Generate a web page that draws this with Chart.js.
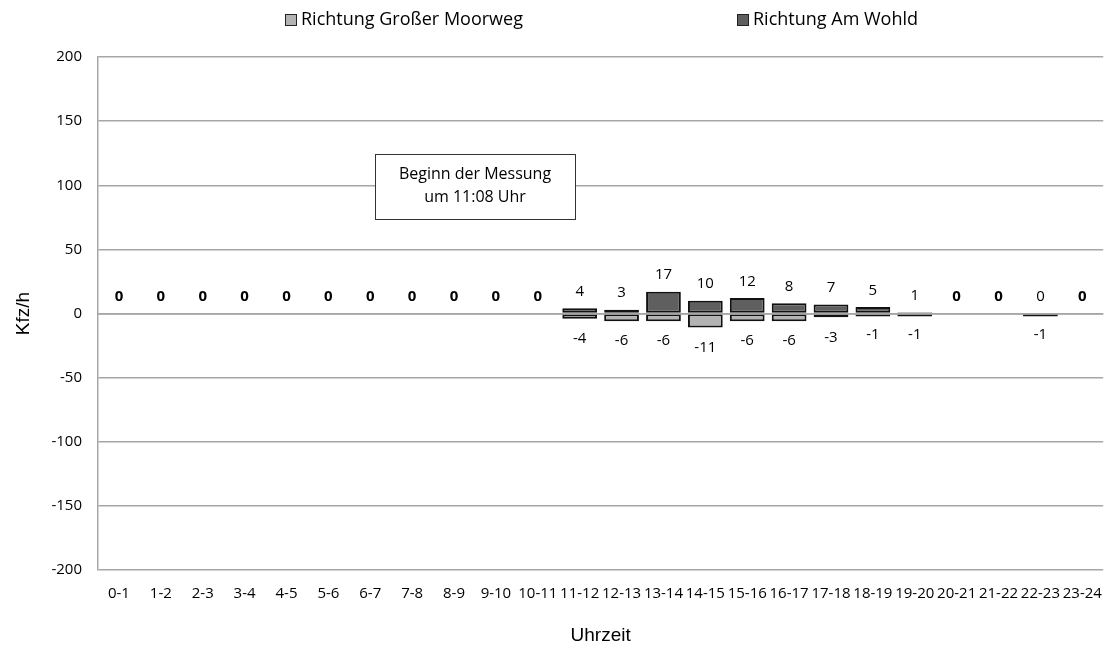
<!DOCTYPE html>
<html><head><meta charset="utf-8">
<script src="https://cdn.jsdelivr.net/npm/chart.js@4/dist/chart.umd.min.js"></script>
<style>html,body{margin:0;padding:0;background:#fff}#wrap{width:1117px;height:653px;position:relative}</style>
</head><body><div id="wrap"><canvas id="c" width="1117" height="653"></canvas></div>
<script>
const categories = ['0-1','1-2','2-3','3-4','4-5','5-6','6-7','7-8','8-9','9-10','10-11','11-12','12-13','13-14','14-15','15-16','16-17','17-18','18-19','19-20','20-21','21-22','22-23','23-24'];
const amWohld = [0,0,0,0,0,0,0,0,0,0,0,4,3,17,10,12,8,7,5,1,0,0,0,0];
const grosserMoorweg = [null,null,null,null,null,null,null,null,null,null,null,-4,-6,-6,-11,-6,-6,-3,-1,-1,null,null,-1,null];
const yMin = -200, yMax = 200, yStep = 50;
const seriesNames = ['Richtung Großer Moorweg','Richtung Am Wohld'];
const noteLines = ['Beginn der Messung','um 11:08 Uhr'];
const colLight = '#b3b3b3', colDark = '#5f5f5f', colBorder = '#111111', colGrid = '#a6a6a6';
const FONT = '"Open Sans", "DejaVu Sans", sans-serif';

const overlayPlugin = {
  id: 'overlay',
  afterDatasetsDraw(chart) {
    const ctx = chart.ctx;
    const mL = chart.getDatasetMeta(0), mD = chart.getDatasetMeta(1);
    const ys = chart.scales.y, area = chart.chartArea;
    ctx.save();
    // zero line drawn over the bars
    const y0 = Math.round(ys.getPixelForValue(0));
    ctx.strokeStyle = colGrid;
    ctx.lineWidth = 1.5;
    ctx.beginPath();
    ctx.moveTo(area.left, y0);
    ctx.lineTo(area.right, y0);
    ctx.stroke();
    ctx.fillStyle = '#000';
    ctx.textAlign = 'center';
    ctx.textBaseline = 'middle';
    for (let i = 0; i < categories.length; i++) {
      const bold = grosserMoorweg[i] === null;
      ctx.font = (bold ? 'bold ' : '') + '15px ' + FONT;
      const ed = mD.data[i];
      ctx.fillText(String(amWohld[i]), ed.x, ys.getPixelForValue(amWohld[i]) - 16.5);
      if (grosserMoorweg[i] !== null) {
        const el = mL.data[i];
        ctx.font = '15px ' + FONT;
        ctx.fillText(String(grosserMoorweg[i]), el.x, ys.getPixelForValue(grosserMoorweg[i]) + 20);
      }
    }
    // note box
    ctx.fillStyle = '#fff';
    ctx.fillRect(375, 154, 200, 65);
    ctx.strokeStyle = '#333';
    ctx.lineWidth = 1;
    ctx.strokeRect(375.5, 154.5, 200, 65);
    ctx.fillStyle = '#000';
    ctx.font = '16px ' + FONT;
    ctx.fillText(noteLines[0], 475, 174);
    ctx.fillText(noteLines[1], 475, 197);
    // legend
    const items = [{x: 285, c: colLight}, {x: 737, c: colDark}];
    ctx.textAlign = 'left';
    ctx.font = '18px ' + FONT;
    items.forEach((it, k) => {
      ctx.fillStyle = it.c;
      ctx.fillRect(it.x, 14, 12, 12);
      ctx.strokeStyle = '#222';
      ctx.strokeRect(it.x + 0.5, 14.5, 11, 11);
      ctx.fillStyle = '#000';
      ctx.fillText(seriesNames[k], it.x + 16, 20);
    });
    ctx.restore();
  }
};

new Chart(document.getElementById('c'), {
  type: 'bar',
  data: {
    labels: categories,
    datasets: [
      {label: seriesNames[0], data: grosserMoorweg, order: 1, backgroundColor: colLight, borderColor: colBorder, borderWidth: 2, borderSkipped: false, minBarLength: 3, categoryPercentage: 0.83, barPercentage: 1},
      {label: seriesNames[1], data: amWohld, order: 0, backgroundColor: colDark, borderColor: colBorder, borderWidth: 2, borderSkipped: false, categoryPercentage: 0.83, barPercentage: 1}
    ]
  },
  options: {
    responsive: false,
    animation: false,
    layout: {padding: {top: 57, right: 6, left: 0, bottom: 0}},
    plugins: {legend: {display: false}, tooltip: {enabled: false}},
    scales: {
      x: {
        stacked: true,
        grid: {display: false, drawTicks: false},
        border: {display: false},
        ticks: {font: {family: FONT, size: 15}, color: '#000', padding: 15, maxRotation: 0, autoSkip: false},
        title: {display: true, text: 'Uhrzeit', font: {family: '"Liberation Sans", Arial, sans-serif', size: 19}, color: '#000', padding: {top: 0, bottom: 5.5}},
        afterFit(s) { s.height = 83; }
      },
      y: {
        stacked: false,
        min: yMin, max: yMax,
        grid: {color: colGrid, lineWidth: 1.5, drawTicks: false},
        border: {display: true, color: colGrid, width: 1.5},
        ticks: {stepSize: yStep, font: {family: FONT, size: 15}, color: '#000', padding: 16},
        title: {display: true, text: 'Kfz/h', font: {family: '"Liberation Sans", Arial, sans-serif', size: 19}, color: '#000', padding: {top: 12.5, bottom: 0}},
        afterFit(s) { s.width = 98; }
      }
    }
  },
  plugins: [overlayPlugin]
});
</script>
</body></html>
